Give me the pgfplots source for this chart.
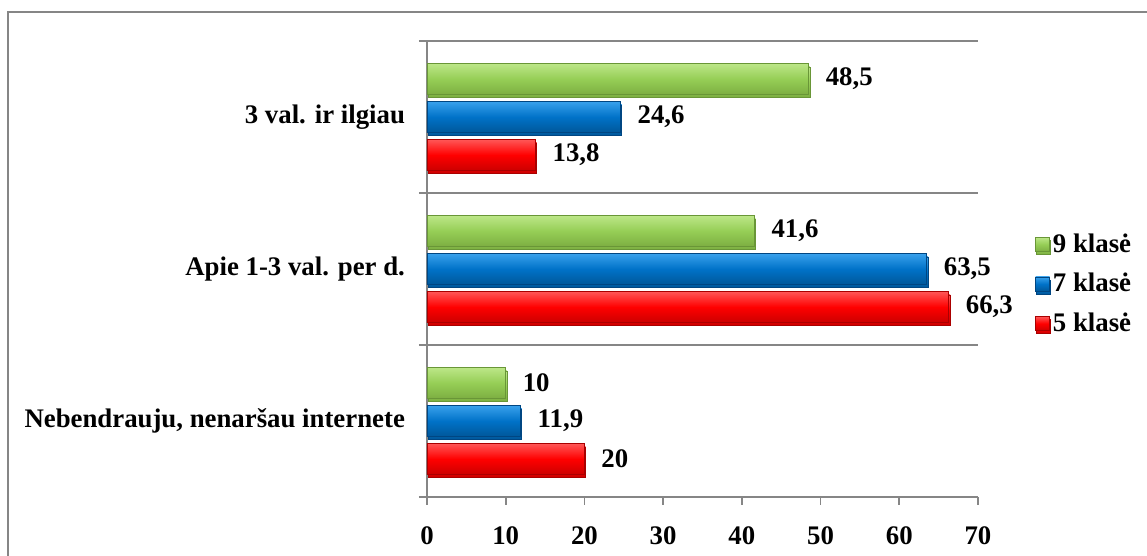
\documentclass[border=0pt]{standalone}
\usepackage{fontspec}
\setmainfont{Liberation Serif}
\usepackage{pgfplots}
\pgfplotsset{compat=1.18}
\definecolor{gridgray}{RGB}{134,134,134}
\definecolor{gTop}{RGB}{188,230,135}
\definecolor{gMid}{RGB}{150,206,86}
\definecolor{gBot}{RGB}{125,175,66}
\definecolor{gEdge}{RGB}{105,150,55}
\definecolor{bTop}{RGB}{55,160,235}
\definecolor{bMid}{RGB}{0,114,200}
\definecolor{bBot}{RGB}{0,88,155}
\definecolor{bEdge}{RGB}{0,70,130}
\definecolor{rTop}{RGB}{255,85,85}
\definecolor{rMid}{RGB}{255,0,0}
\definecolor{rBot}{RGB}{205,0,0}
\definecolor{rEdge}{RGB}{170,0,0}
\newcommand\fs{\fontsize{13.4}{16}\selectfont\bfseries}
\pgfplotsset{
  sqlegend/.style={legend image code/.code={\draw[##1, line width=0.3pt] (0pt,-3.5pt) rectangle (7pt,3.5pt);}},
  barbase/.style={xbar, bar width=0.2, line width=0.4pt, sqlegend,
    preaction={fill=black!22, transform canvas={xshift=0.6pt, yshift=-1.6pt}}},
  gbar/.style={barbase, bar shift=0.25, draw=gEdge, top color=gTop, bottom color=gBot, middle color=gMid,
    nodes near coords style={yshift=19pt}},
  bbar/.style={barbase, bar shift=0, draw=bEdge, top color=bTop, bottom color=bBot, middle color=bMid},
  rbar/.style={barbase, bar shift=-0.25, draw=rEdge, top color=rTop, bottom color=rBot, middle color=rMid,
    nodes near coords style={yshift=-19pt}},
}
\begin{document}
\begin{tikzpicture}
\useasboundingbox (-213.5pt,-29.5pt) rectangle (360pt,248.5pt);
\fill[white] (-213.5pt,-29.5pt) rectangle (360pt,248.5pt);
\draw[gridgray, line width=1pt] (-209.5pt,-29.5pt) -- (-209.5pt,242.5pt) -- (360pt,242.5pt);
\begin{axis}[
  at={(0,0)}, anchor=south west,
  scale only axis, width=275.5pt, height=228pt,
  xmin=0, xmax=70, ymin=-0.5, ymax=2.5,
  xtick={0,10,...,70},
  ytick={-0.5,0.5,1.5,2.5}, yticklabels={},
  extra y ticks={0,1,2},
  extra y tick labels={{Nebendrauju, nenaršau internete},{Apie 1-3 val. per d.},{3 val. ir ilgiau}},
  extra y tick style={grid=none, tick style={draw=none}, yticklabel style={xshift=-3.5pt}},
  ymajorgrids, grid style={gridgray, line width=0.8pt},
  axis x line*=bottom, axis y line*=left,
  axis line style={gridgray, line width=0.8pt, -},
  tick style={gridgray, line width=0.8pt},
  tick align=outside, major tick length=4pt,
  tick label style={font=\fs},
  xticklabel style={yshift=-7.5pt},
  /pgf/number format/assume math mode=true,
  /pgf/number format/use comma,
  point meta=x,
  nodes near coords,
  nodes near coords style={font=\fs, anchor=west, xshift=5pt, text=black},
  legend style={draw=none, fill=none, at={(1,0.5)}, anchor=west, xshift=25.5pt, yshift=-7.5pt, font=\fs, row sep=6pt, nodes={inner sep=1.5pt}},
  legend cell align=left,
]
% 3 val. ir ilgiau (y=2) -- carries the legend entries
\addplot[gbar] coordinates {(48.5,2)};
\addlegendentry{9 klasė}
\addplot[bbar] coordinates {(24.6,2)};
\addlegendentry{7 klasė}
\addplot[rbar] coordinates {(13.8,2)};
\addlegendentry{5 klasė}
% Apie 1-3 val. per d. (y=1)
\addplot[gbar, forget plot] coordinates {(41.6,1)};
\addplot[bbar, forget plot] coordinates {(63.5,1)};
\addplot[rbar, forget plot] coordinates {(66.3,1)};
% Nebendrauju, nenaršau internete (y=0)
\addplot[gbar, forget plot] coordinates {(10,0)};
\addplot[bbar, forget plot] coordinates {(11.9,0)};
\addplot[rbar, forget plot] coordinates {(20,0)};
\end{axis}
\end{tikzpicture}
\end{document}
